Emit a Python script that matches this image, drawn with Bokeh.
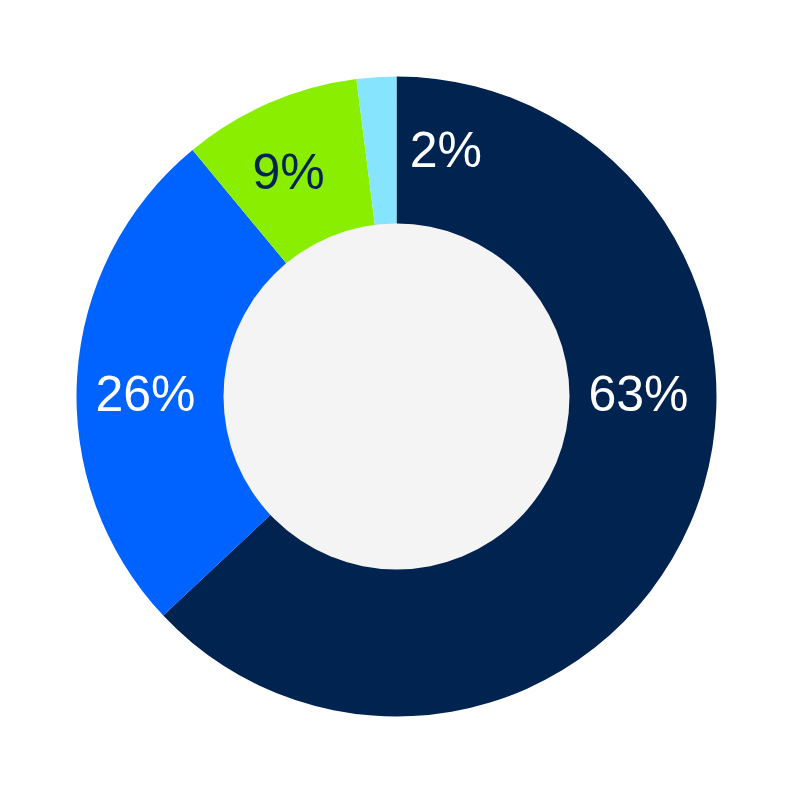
import numpy as np
from bokeh.plotting import figure
from bokeh.models import ColumnDataSource
from bokeh.core.properties import value
from bokeh.embed import file_html
from bokeh.resources import INLINE

# slice data, clockwise from 12 o'clock
shares = [63, 26, 9, 2]
labels = ["63%", "26%", "9%", "2%"]
colors = ["#002350", "#0062ff", "#8aee00", "#86e4ff"]
label_colors = ["#ffffff", "#ffffff", "#002350", "#ffffff"]
# where each label sits (degrees ccw from 3 o'clock, distance from centre)
label_deg = [0, 180, 116, 78.5]
label_r = [242, 251, 246, 248]

R_OUT, R_IN = 320, 173

frac = np.array(shares) / sum(shares)
ends = np.cumsum(frac) * 2 * np.pi
starts = ends - frac * 2 * np.pi
src = ColumnDataSource(dict(
    start=np.pi / 2 - starts,
    end=np.pi / 2 - ends,
    color=colors,
))

ang = np.radians(label_deg)
lab = ColumnDataSource(dict(
    x=np.array(label_r) * np.cos(ang),
    y=np.array(label_r) * np.sin(ang) + 3,
    text=labels, color=label_colors,
))

p = figure(width=776, height=776, x_range=(-396, 380), y_range=(-380, 396),
           output_backend="svg", toolbar_location=None, min_border=0)
p.axis.visible = False
p.grid.visible = False
p.outline_line_color = None
p.background_fill_color = "white"

p.annular_wedge(x=0, y=0, inner_radius=R_IN - 2, outer_radius=R_OUT,
                start_angle="start", end_angle="end", direction="clock",
                fill_color="color", line_color=None, source=src)
p.circle(x=0, y=0, radius=R_IN, fill_color="#f4f4f4", line_color=None)

p.text(x="x", y="y", text="text", text_color="color", source=lab,
       text_font=value("Liberation Sans"), text_font_size="50px",
       text_align="center", text_baseline="middle")

open("out.html", "w").write(file_html(p, INLINE))
